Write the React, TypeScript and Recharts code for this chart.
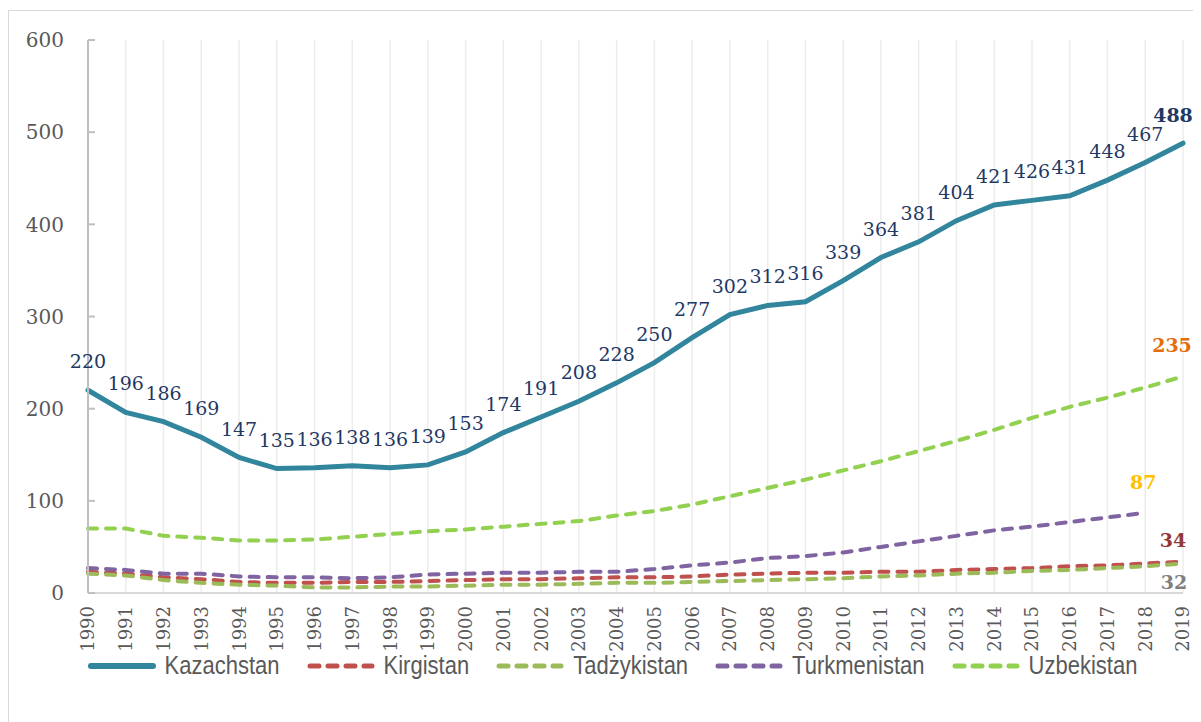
import React from 'react';
import { LineChart, Line, XAxis, YAxis, CartesianGrid, Legend, LabelList } from 'recharts';

const years = [
  '1990', '1991', '1992', '1993', '1994', '1995', '1996', '1997', '1998', '1999',
  '2000', '2001', '2002', '2003', '2004', '2005', '2006', '2007', '2008', '2009',
  '2010', '2011', '2012', '2013', '2014', '2015', '2016', '2017', '2018', '2019',
];

const kazachstan = [220, 196, 186, 169, 147, 135, 136, 138, 136, 139, 153, 174, 191, 208, 228, 250, 277, 302, 312, 316, 339, 364, 381, 404, 421, 426, 431, 448, 467, 488];
const kirgistan = [23, 21, 17, 15, 12, 11, 11, 12, 12, 13, 14, 15, 15, 16, 17, 17, 18, 20, 21, 22, 22, 23, 23, 25, 26, 27, 29, 30, 32, 34];
const tadzykistan = [21, 19, 14, 11, 9, 8, 6, 6, 7, 7, 8, 9, 9, 10, 11, 11, 12, 13, 14, 15, 16, 18, 19, 21, 22, 24, 25, 27, 29, 32];
const turkmenistan = [27, 25, 21, 21, 18, 17, 17, 16, 17, 20, 21, 22, 22, 23, 23, 26, 30, 33, 38, 40, 44, 50, 56, 62, 68, 72, 77, 82, 87, null];
const uzbekistan = [70, 70, 62, 60, 57, 57, 58, 61, 64, 67, 69, 72, 75, 78, 84, 89, 96, 105, 114, 123, 133, 143, 154, 165, 177, 190, 202, 212, 223, 235];

const yTicks = [0, 100, 200, 300, 400, 500, 600];

const series = [
  { key: 'kaz', name: 'Kazachstan', values: kazachstan, color: '#31859c', dash: undefined, width: 5, labelColor: '#1f3864', dx: -10, dy: -21 },
  { key: 'kir', name: 'Kirgistan', values: kirgistan, color: '#c0504d', dash: '9 9', width: 4, labelColor: '#953735', dx: -10, dy: -15 },
  { key: 'tad', name: 'Tadżykistan', values: tadzykistan, color: '#9bbb59', dash: '9 9', width: 4, labelColor: '#7f7f7f', dx: -9, dy: 25 },
  { key: 'tur', name: 'Turkmenistan', values: turkmenistan, color: '#8064a2', dash: '9 9', width: 4, labelColor: '#ffc000', dx: -2, dy: -24 },
  { key: 'uzb', name: 'Uzbekistan', values: uzbekistan, color: '#92d050', dash: '9 9', width: 4, labelColor: '#e46c0a', dx: -11, dy: -24 },
];

const data = years.map((year, i) => {
  const row: any = { year };
  series.forEach(s => { row[s.key] = s.values[i]; });
  return row;
});

const serif = "'DejaVu Serif', 'Liberation Serif', serif";

const lastIndex = (values: (number | null)[]) => {
  let idx = values.length - 1;
  while (idx > 0 && values[idx] == null) idx--;
  return idx;
};

const XTick = ({ x, y, payload }: any) => (
  <text
    transform={`translate(${x},${y + 13}) rotate(-90)`}
    textAnchor="end"
    dy="0.36em"
    fill="#595959"
    fontSize={18}
    fontFamily={serif}
  >
    {payload.value}
  </text>
);

const YTick = ({ x, y, payload }: any) => (
  <g>
    <line x1={x} y1={y} x2={x + 7} y2={y} stroke="#bfbfbf" strokeWidth={2} />
    <text x={x - 24} y={y} dy="0.36em" textAnchor="end" fill="#595959" fontSize={20} fontFamily={serif}>
      {payload.value}
    </text>
  </g>
);

const makeLabel = (s: typeof series[number]) => (props: any) => {
  const { x, y, value, index } = props;
  if (value == null) return null;
  const last = index === lastIndex(s.values);
  if (s.key !== 'kaz' && !last) return null;
  return (
    <text
      key={`${s.key}-${index}`}
      x={x + (last ? s.dx : 0)}
      y={y + (last ? s.dy : -22)}
      textAnchor="middle"
      fill={s.labelColor}
      fontSize={19}
      fontWeight={last ? 'bold' : 'normal'}
      fontFamily={serif}
    >
      {value}
    </text>
  );
};

const renderLegend = () => (
  <div
    style={{
      display: 'flex',
      justifyContent: 'center',
      alignItems: 'center',
      height: 30,
      paddingLeft: 60,
      fontFamily: "'Liberation Sans', Arial, sans-serif",
      fontSize: 22,
      color: '#595959',
    }}
  >
    {series.map(s => (
      <div key={s.key} style={{ display: 'flex', alignItems: 'center', marginRight: 27 }}>
        <svg width={68} height={10}>
          <line
            x1={3}
            y1={5}
            x2={65}
            y2={5}
            stroke={s.color}
            strokeWidth={s.width + 1}
            strokeDasharray={s.dash}
            strokeLinecap="round"
          />
        </svg>
        <span style={{ marginLeft: 9, display: 'inline-block', transform: 'scaleY(1.2)' }}>{s.name}</span>
      </div>
    ))}
  </div>
);

const App = () => {
  return (
    <div
      style={{
        position: 'relative',
        top: 2,
        width: 1200,
        height: 720,
        borderTop: '1px solid #d9d9d9',
        borderLeft: '1px solid #d9d9d9',
        background: '#ffffff',
      }}
    >
      <LineChart width={1192} height={700} data={data} margin={{ top: 29, right: 18, left: 0, bottom: 30 }}>
        <CartesianGrid horizontal={false} stroke="#ececec" strokeWidth={1.5} />
        <XAxis
          dataKey="year"
          interval={0}
          height={58}
          tickSize={0}
          tickMargin={0}
          tickLine={false}
          axisLine={{ stroke: '#d9d9d9', strokeWidth: 2 }}
          tick={<XTick />}
        />
        <YAxis
          domain={[0, 600]}
          ticks={yTicks}
          width={79}
          tickSize={0}
          tickMargin={0}
          tickLine={false}
          axisLine={{ stroke: '#bfbfbf', strokeWidth: 2 }}
          tick={<YTick />}
        />
        <Legend verticalAlign="bottom" content={renderLegend} />
        {series.map(s => (
          <Line
            key={s.key}
            type="linear"
            dataKey={s.key}
            name={s.name}
            stroke={s.color}
            strokeWidth={s.width}
            strokeDasharray={s.dash}
            strokeLinecap="round"
            dot={false}
            activeDot={false}
            connectNulls={false}
            isAnimationActive={false}
          >
            <LabelList dataKey={s.key} content={makeLabel(s)} />
          </Line>
        ))}
      </LineChart>
    </div>
  );
};

export default App;
